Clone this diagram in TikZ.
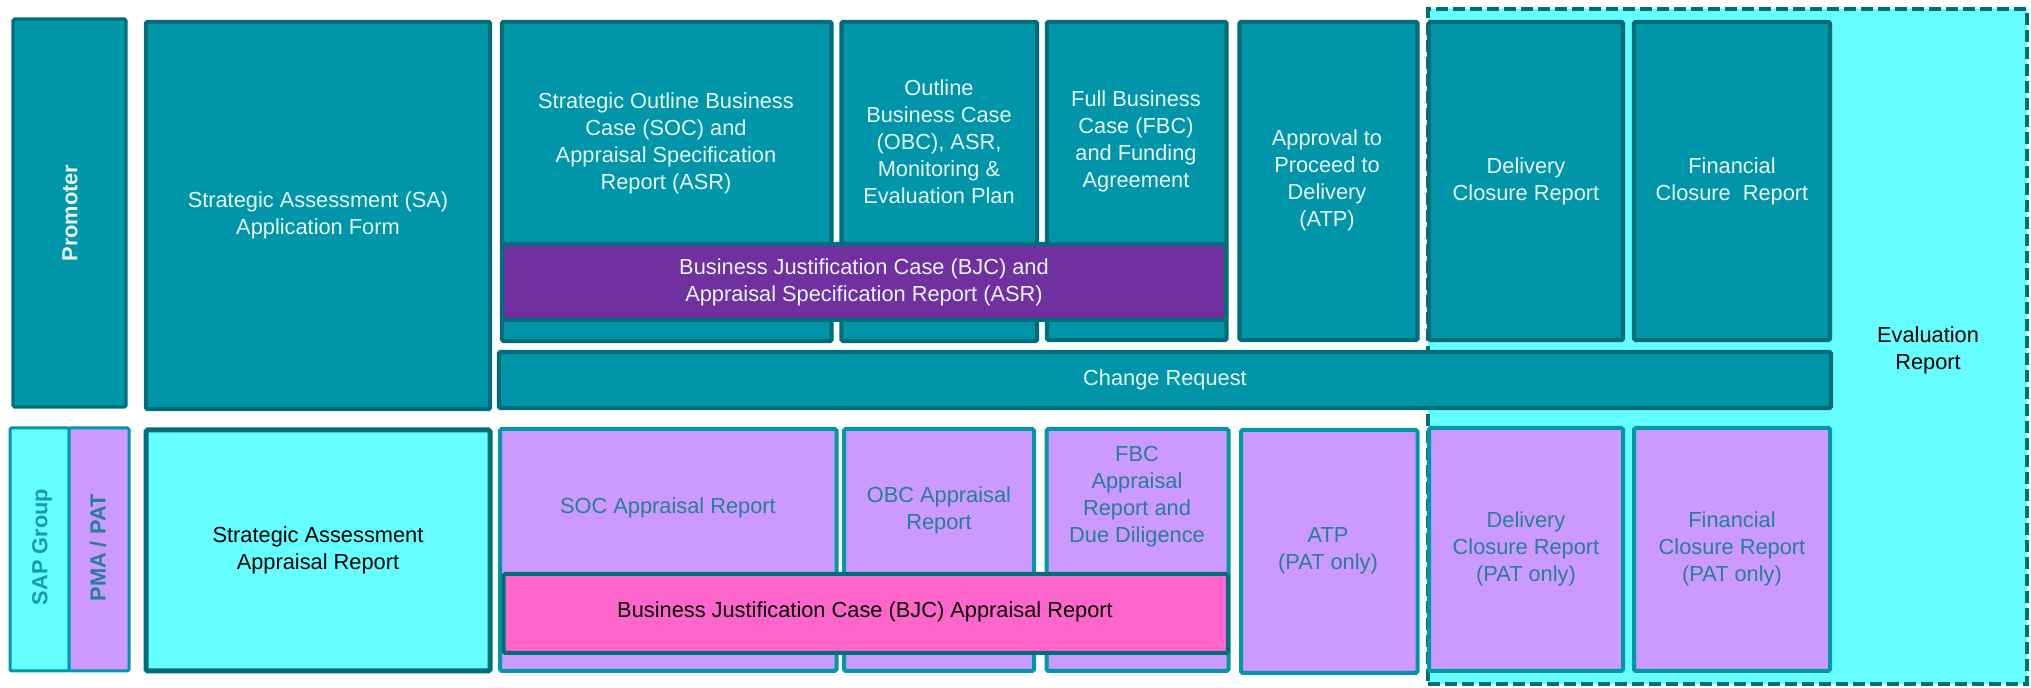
\documentclass[tikz,border=0pt]{standalone}
\usepackage{fontspec}
\setmainfont{Liberation Sans}
\usetikzlibrary{fit}
\definecolor{tealfill}{HTML}{0095A8}
\definecolor{tealdark}{HTML}{006E7A}
\definecolor{cyanfill}{HTML}{66FFFF}
\definecolor{lilac}{HTML}{CC99FF}
\definecolor{bordteal}{HTML}{0097A7}
\definecolor{bjcpurple}{HTML}{7030A0}
\definecolor{pinkfill}{HTML}{FF66CC}
\definecolor{textteal}{HTML}{267F94}
\definecolor{sapteal}{HTML}{1A9AAE}
\definecolor{textwhite}{HTML}{E6F5F5}
\tikzset{
  x=0.5pt, y=-0.5pt,
  boxbase/.style={inner sep=0pt, outer sep=0pt, rounded corners=0.8pt},
  topbox/.style={boxbase, fill=tealfill, draw=tealdark, line width=2.2pt},
  lowbox/.style={boxbase, fill=lilac, draw=bordteal, line width=2pt},
  sidebox/.style={boxbase, draw=bordteal, line width=1.5pt},
  txt/.style={align=center, inner sep=0pt, font=\fontsize{10.9}{13.5}\selectfont},
  wtxt/.style={txt, text=textwhite},
  ttxt/.style={txt, text=textteal},
  btxt/.style={txt, text=black},
}
\begin{document}
\begin{tikzpicture}
\useasboundingbox (0,0) rectangle (2031,688);
% evaluation background
\node[boxbase, rounded corners=0pt, fill=cyanfill, draw=tealdark, line width=2pt, dash pattern=on 6pt off 2.5pt, fit={(1428,9) (2027,684)}] (evalbox) {};
\node[btxt] (evaltxt) at (1928,350) {Evaluation\\Report};
% promoter row
\node[topbox, line width=1.6pt, fit={(13,19) (126,407)}] (promoter) {};
\node[wtxt, rotate=90, font=\fontsize{10.9}{13.5}\selectfont\bfseries] (promotertxt) at (70,213) {Promoter};
\node[topbox, fit={(146,22) (490,409)}] (sa) {};
\node[wtxt] (satxt) at (318,215) {Strategic Assessment (SA)\\Application Form};
\node[topbox, fit={(502,22) (831.5,341)}] (soc) {};
\node[wtxt] (soctxt) at (666,143) {Strategic Outline Business\\Case (SOC) and\\Appraisal Specification\\Report (ASR)};
\node[topbox, fit={(841.5,22) (1037,341)}] (obc) {};
\node[wtxt] (obctxt) at (939,142) {Outline\\Business Case\\(OBC), ASR,\\Monitoring \&\\Evaluation Plan};
\node[topbox, fit={(1047,22) (1226.5,340)}] (fbc) {};
\node[wtxt] (fbctxt) at (1136,141) {Full Business\\Case (FBC)\\and Funding\\Agreement};
\node[topbox, fit={(1239.5,22) (1417.5,340)}] (atp) {};
\node[wtxt] (atptxt) at (1327,180) {Approval to\\Proceed to\\Delivery\\(ATP)};
\node[topbox, fit={(1429,22) (1623,340)}] (dcr) {};
\node[wtxt] (dcrtxt) at (1526,181) {Delivery\\Closure Report};
\node[topbox, fit={(1634,22) (1830,340)}] (fcr) {};
\node[wtxt] (fcrtxt) at (1732,181) {Financial\\Closure\ \ Report};
\node[boxbase, fill=bjcpurple, draw=tealdark, line width=2pt, fit={(502,244) (1226,320)}] (bjc) {};
\node[wtxt] (bjctxt) at (864,282) {Business Justification Case (BJC) and\\Appraisal Specification Report (ASR)};
\node[topbox, fit={(499,352) (1831,408)}] (cr) {};
\node[wtxt] (crtxt) at (1165,380) {Change Request};
% appraisal row
\node[sidebox, fill=cyanfill, fit={(10,428) (69,671)}] (sap) {};
\node[txt, rotate=90, text=sapteal, font=\fontsize{10.9}{13.5}\selectfont\bfseries] (saptxt) at (42,547) {SAP Group};
\node[sidebox, fill=lilac, fit={(69,428) (129,671)}] (pma) {};
\node[ttxt, rotate=90, font=\fontsize{10.9}{13.5}\selectfont\bfseries] (pmatxt) at (98,548) {PMA / PAT};
\node[boxbase, fill=cyanfill, draw=tealdark, line width=2.5pt, fit={(146,430) (490,671)}] (saar) {};
\node[btxt] (saartxt) at (318,550) {Strategic Assessment\\Appraisal Report};
\node[lowbox, fit={(500,429) (836.5,671)}] (socar) {};
\node[ttxt] (socartxt) at (668,508) {SOC Appraisal Report};
\node[lowbox, fit={(844,429) (1034,671)}] (obcar) {};
\node[ttxt] (obcartxt) at (939,510) {OBC Appraisal\\Report};
\node[lowbox, fit={(1046.5,429) (1228.5,671)}] (fbcar) {};
\node[ttxt] (fbcartxt) at (1137,497) {FBC\\Appraisal\\Report and\\Due Diligence};
\node[lowbox, fit={(1241,430) (1417.5,673)}] (atpar) {};
\node[ttxt] (atpartxt) at (1328,551) {ATP\\(PAT only)};
\node[lowbox, fit={(1429,428) (1623,671)}] (dcrar) {};
\node[ttxt] (dcrartxt) at (1526,549) {Delivery\\Closure Report\\(PAT only)};
\node[lowbox, fit={(1634,428) (1830,671)}] (fcrar) {};
\node[ttxt] (fcrartxt) at (1732,549) {Financial\\Closure Report\\(PAT only)};
\node[boxbase, fill=pinkfill, draw=tealdark, line width=2pt, fit={(503.5,574) (1228,653)}] (bjcar) {};
\node[btxt] (bjcartxt) at (865,612) {Business Justification Case (BJC) Appraisal Report};
\end{tikzpicture}
\end{document}
